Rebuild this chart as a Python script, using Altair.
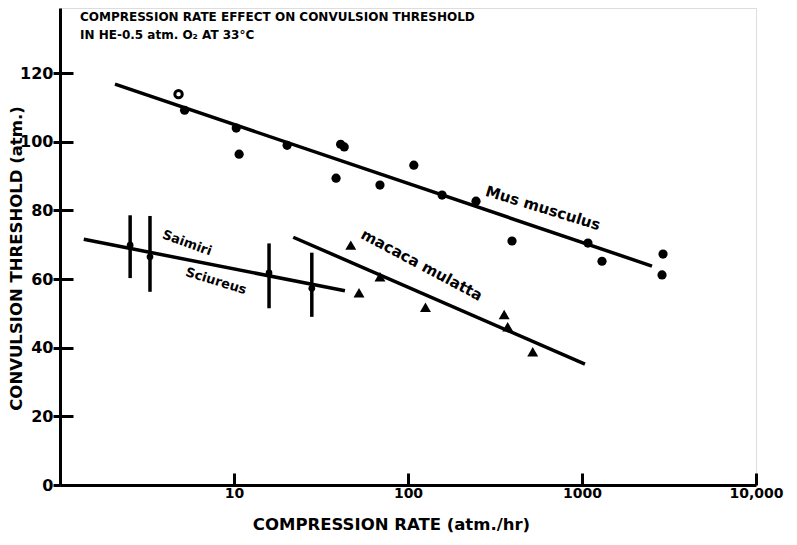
import altair as alt
import pandas as pd

# ---- data ----
mus_rate = [4.8, 5.2, 10.3, 10.7, 20.2, 41.0, 43.0, 38.6, 69.0, 108, 157, 246, 396, 1082, 1303, 2922, 2884]
mus_threshold = [113.9, 109.2, 104.0, 96.4, 99.0, 99.3, 98.5, 89.4, 87.4, 93.2, 84.5, 82.7, 71.1, 70.5, 65.2, 67.3, 61.2]
mus_open = [True] + [False] * 16
mus_fit_rate = [2.07, 2525]
mus_fit_threshold = [116.8, 63.8]

saimiri_rate = [2.53, 3.29, 15.9, 28.0]
saimiri_mean = [69.9, 66.5, 61.8, 57.3]
saimiri_low = [60.3, 56.3, 51.5, 49.0]
saimiri_high = [78.6, 78.4, 70.4, 67.7]
saimiri_fit_rate = [1.37, 43.4]
saimiri_fit_threshold = [71.6, 56.6]

macaca_rate = [46.9, 52.3, 69.0, 126, 357, 374, 521]
macaca_threshold = [69.9, 56.0, 60.7, 51.8, 49.7, 46.1, 38.8]
macaca_fit_rate = [21.9, 1040]
macaca_fit_threshold = [72.2, 35.2]

label_text = ["Mus musculus", "macaca mulatta", "Saimiri", "Sciureus"]
label_rate = [597, 120, 5.37, 7.88]
label_threshold = [80.7, 64.1, 70.5, 59.4]
label_angle = [17, 28, 20, 17]
label_size = [15, 15, 13, 13]

x_ticks = [10, 100, 1000, 10000]
y_ticks = [0, 20, 40, 60, 80, 100, 120]
x_domain = [1, 10000]
y_domain = [0, 139]

title_lines = ["COMPRESSION RATE EFFECT ON CONVULSION THRESHOLD", "IN HE-0.5 atm. O\u2082 AT 33\u00b0C"]
x_title = "COMPRESSION RATE (atm./hr)"
y_title = "CONVULSION THRESHOLD (atm.)"

W, H = 696, 477
FONT = "DejaVu Sans"

# ---- tables ----
mus_df = pd.DataFrame({"rate": mus_rate, "threshold": mus_threshold, "open": mus_open})
mus_fit = pd.DataFrame({"rate": mus_fit_rate, "threshold": mus_fit_threshold})
sai_df = pd.DataFrame({"rate": saimiri_rate, "threshold": saimiri_mean,
                       "low": saimiri_low, "high": saimiri_high})
sai_fit = pd.DataFrame({"rate": saimiri_fit_rate, "threshold": saimiri_fit_threshold})
mac_df = pd.DataFrame({"rate": macaca_rate, "threshold": macaca_threshold})
mac_fit = pd.DataFrame({"rate": macaca_fit_rate, "threshold": macaca_fit_threshold})
lab_df = pd.DataFrame({"rate": label_rate, "threshold": label_threshold,
                       "text": label_text, "angle": label_angle, "size": label_size})

xs = alt.Scale(type="log", domain=x_domain)
ys = alt.Scale(domain=y_domain, nice=False)

def X(axis=None):
    return alt.X("rate:Q", scale=xs, axis=axis)

def Y(axis=None, field="threshold:Q"):
    return alt.Y(field, scale=ys, axis=axis)

x_axis_main = alt.Axis(
    orient="bottom", values=x_ticks, ticks=False, grid=False,
    labelExpr="format(datum.value, datum.value >= 10000 ? ',d' : 'd')",
    labelFont=FONT, labelFontWeight="bold", labelFontSize=14, labelColor="black",
    labelPadding=1, labelFlush=False, labelOverlap=False,
    domainColor="black", domainWidth=3,
    title=x_title, titleFont=FONT, titleFontWeight="bold", titleFontSize=16.5,
    titleColor="black", titleX=331, titleY=31, titleAnchor="middle", titleAlign="center",
)
y_axis_main = alt.Axis(
    orient="left", values=y_ticks, grid=False,
    tickSize=7, tickWidth=3, tickColor="black",
    labelFont=FONT, labelFontWeight="bold", labelFontSize=16, labelColor="black",
    labelPadding=0,
    domainColor="black", domainWidth=3,
    title=y_title, titleFont=FONT, titleFontWeight="bold", titleFontSize=16.5,
    titleColor="black", titleX=-44, titleY=250, titleAlign="center", titleBaseline="middle",
)
x_axis_ticks = alt.Axis(orient="top", offset=-H, values=x_ticks, labels=False, domain=False,
                        grid=False, tickSize=12, tickWidth=3, tickColor="black", title=None)
y_axis_ticks = alt.Axis(orient="right", offset=-W, values=y_ticks, labels=False, domain=False,
                        grid=False, tickSize=13, tickWidth=3, tickColor="black", title=None)

mus_line = alt.Chart(mus_fit).mark_line(color="black", strokeWidth=3.5).encode(
    x=X(x_axis_main), y=Y(y_axis_main))
sai_line = alt.Chart(sai_fit).mark_line(color="black", strokeWidth=3.5).encode(
    x=X(x_axis_ticks), y=Y(y_axis_ticks))
mac_line = alt.Chart(mac_fit).mark_line(color="black", strokeWidth=3.5).encode(x=X(), y=Y())

sai_bars = alt.Chart(sai_df).mark_rule(color="black", strokeWidth=3.5).encode(
    x=X(), y=Y(field="low:Q"), y2=alt.Y2("high:Q"))
sai_pts = alt.Chart(sai_df).mark_circle(color="black", size=45, opacity=1).encode(x=X(), y=Y())

mus_filled = alt.Chart(mus_df).transform_filter("!datum.open").mark_circle(
    color="black", size=85, opacity=1).encode(x=X(), y=Y())
mus_hollow = alt.Chart(mus_df).transform_filter("datum.open").mark_point(
    shape="circle", filled=False, color="black", strokeWidth=3, size=55, opacity=1).encode(x=X(), y=Y())

mac_pts = alt.Chart(mac_df).mark_point(shape="triangle-up", filled=True, color="black",
                                       size=120, opacity=1).encode(x=X(), y=Y())

labels = alt.Chart(lab_df).mark_text(font=FONT, fontWeight="bold", color="black",
                                     align="center", baseline="middle").encode(
    x=X(), y=Y(), text="text:N",
    angle=alt.Angle("angle:Q", scale=None),
    size=alt.Size("size:Q", scale=None),
)

chart = alt.layer(
    mus_line, sai_line, mac_line, sai_bars, sai_pts, mus_filled, mus_hollow, mac_pts, labels
).resolve_axis(x="independent", y="independent").properties(
    width=W, height=H,
    autosize=alt.AutoSizeParams(type="none"),
    padding={"left": 60, "top": 8, "right": 41, "bottom": 60},
    title=alt.TitleParams(
        title_lines, anchor="start", frame="group", dx=20, offset=-34,
        font=FONT, fontWeight="bold", fontSize=12, color="black", lineHeight=18,
    ),
).configure_view(stroke=None).configure(background="white")

chart.save("out.html", embed_options={"renderer": "svg", "actions": False})
